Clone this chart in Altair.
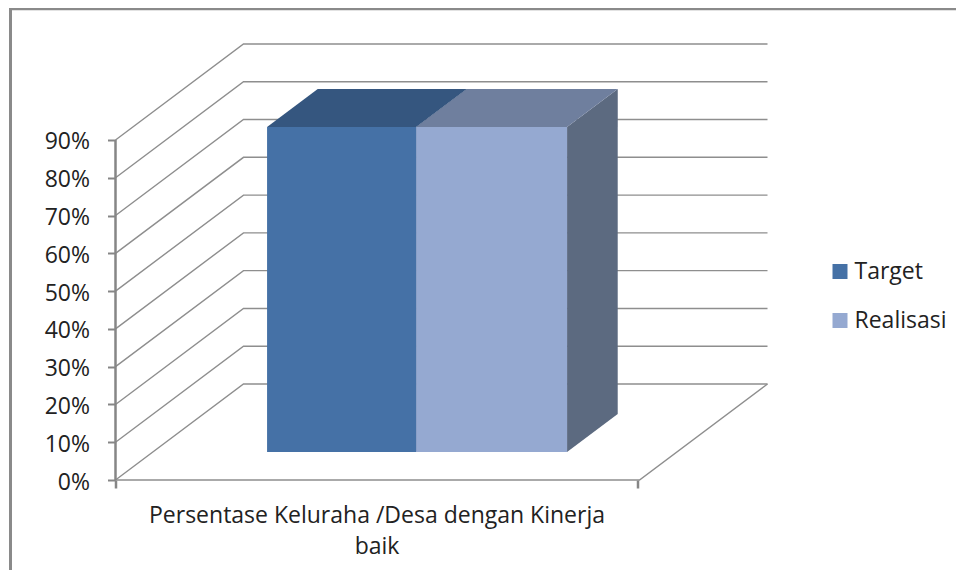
import altair as alt
import pandas as pd

# ---- values
series = ["Target", "Realisasi"]
values = [86, 86]
category = ["Persentase Keluraha /Desa dengan Kinerja", "baik"]
ticks = [0, 10, 20, 30, 40, 50, 60, 70, 80, 90]
bar_edges = [0.218, 0.5025, 0.7905]   # along the category axis (0..1)
bar_depth = [0.2917, 0.6875]          # along the depth axis (0..1)

front_colors = ["#4571a6", "#95a9d1"]
top_colors = ["#35567f", "#6f7f9e"]
side_colors = ["#35567f", "#5c6a80"]
FONT = "Open Sans"
FONT_SIZE = 23
TEXT = "#222222"
GRID = "#8e8e8e"
AXIS = "#868686"

# oblique projection of the 3D box, in data units
DX = 128 / 524
DY = 96 / 3.778
X_MAX = 652.5 / 524
Y_MAX = 436 / 3.778


def px(u, d):
    return u + d * DX


def py(v, d):
    return v + d * DY


xs = alt.Scale(domain=[0, X_MAX], nice=False, zero=False)
ys = alt.Scale(domain=[0, Y_MAX], nice=False, zero=False)
x_axis = alt.Axis(
    values=[0, 0.997],
    labels=False,
    domain=False,
    grid=False,
    ticks=True,
    tickSize=8,
    tickWidth=2.5,
    tickColor=AXIS,
    title=category,
    titleFont=FONT,
    titleFontSize=FONT_SIZE,
    titleFontWeight="normal",
    titleColor=TEXT,
    titleX=261,
    titleY=42,
    titleLineHeight=31,
    titleBaseline="alphabetic",
)
y_axis = alt.Axis(
    values=ticks,
    labelExpr="datum.value + '%'",
    domain=False,
    grid=False,
    tickSize=8,
    tickWidth=2,
    tickColor=AXIS,
    labelFont=FONT,
    labelFontSize=FONT_SIZE,
    labelColor=TEXT,
    labelPadding=18,
    labelOffset=2,
    title=None,
)
X = alt.X("x:Q", scale=xs, axis=x_axis)
Y = alt.Y("y:Q", scale=ys, axis=y_axis)

# gridlines on side wall + back wall
rows = []
for t in ticks:
    rows.append(dict(s=t, i=0, x=px(0, 0), y=py(t, 0)))
    rows.append(dict(s=t, i=1, x=px(0, 1), y=py(t, 1)))
    rows.append(dict(s=t, i=2, x=px(1, 1), y=py(t, 1)))
grid = (
    alt.Chart(pd.DataFrame(rows))
    .mark_line(color=GRID, strokeWidth=1.4, clip=False)
    .encode(x=X, y=Y, detail="s:N", order="i:Q")
)

# floor: front edge and right edge
floor = (
    alt.Chart(
        pd.DataFrame(
            [
                dict(i=0, x=px(0, 0), y=py(0, 0)),
                dict(i=1, x=px(1, 0), y=py(0, 0)),
                dict(i=2, x=px(1, 1), y=py(0, 1)),
            ]
        )
    )
    .mark_line(color=GRID, strokeWidth=1.4)
    .encode(x=X, y=Y, order="i:Q")
)

# value axis line
axis_line = (
    alt.Chart(pd.DataFrame([dict(x=0, y=0, y2=ticks[-1])]))
    .mark_rule(color=AXIS, strokeWidth=2.5)
    .encode(x=X, y=Y, y2="y2:Q")
)

layers = [grid, floor, axis_line]

d0, d1 = bar_depth
for k, name in enumerate(series):
    u0, u1 = bar_edges[k], bar_edges[k + 1]
    v = values[k]
    side = pd.DataFrame(
        [
            dict(x=px(u1, d0), y=py(0, d0), y2=py(v, d0)),
            dict(x=px(u1, d1), y=py(0, d1), y2=py(v, d1)),
        ]
    )
    layers.append(
        alt.Chart(side)
        .mark_area(color=side_colors[k], opacity=1)
        .encode(x=X, y=Y, y2="y2:Q")
    )
    top = pd.DataFrame(
        [
            dict(x=px(u0, d0), x2=px(u1, d0), y=py(v, d0)),
            dict(x=px(u0, d1), x2=px(u1, d1), y=py(v, d1)),
        ]
    )
    layers.append(
        alt.Chart(top)
        .mark_area(color=top_colors[k], opacity=1, orient="horizontal")
        .encode(x=X, x2="x2:Q", y=Y)
    )

front = pd.DataFrame(
    [
        dict(
            name=series[k],
            x=px(bar_edges[k], d0),
            x2=px(bar_edges[k + 1], d0),
            y=py(0, d0),
            y2=py(values[k], d0),
        )
        for k in range(2)
    ]
)
layers.append(
    alt.Chart(front)
    .mark_rect()
    .encode(
        x=X,
        x2="x2:Q",
        y=Y,
        y2="y2:Q",
        color=alt.Color(
            "name:N",
            scale=alt.Scale(domain=series, range=front_colors),
            legend=alt.Legend(
                title=None,
                orient="none",
                legendX=713,
                legendY=216,
                symbolType="square",
                symbolSize=225,
                symbolStrokeWidth=0,
                labelFont=FONT,
                labelFontSize=FONT_SIZE,
                labelColor=TEXT,
                labelOffset=3,
                rowPadding=25,
            ),
        ),
    )
)

# picture frame (top and left edges)
frame_top = (
    alt.Chart(pd.DataFrame({"a": [0]}))
    .mark_rule(color="#8a8a8a", strokeWidth=2.5)
    .encode(x=alt.value(-106), x2=alt.value(860), y=alt.value(-35))
)
frame_left = (
    alt.Chart(pd.DataFrame({"a": [0]}))
    .mark_rule(color="#8a8a8a", strokeWidth=3)
    .encode(y=alt.value(-36), y2=alt.value(540), x=alt.value(-105))
)
layers += [frame_top, frame_left]

chart = (
    alt.layer(*layers)
    .properties(
        width=652.5,
        height=436,
        padding={"left": 107.5, "top": 36, "right": 188, "bottom": 90},
        autosize=alt.AutoSizeParams(type="none"),
        background="white",
    )
    .configure_view(stroke=None)
)
chart.save("out.html", embed_options={"renderer": "svg", "actions": False})
